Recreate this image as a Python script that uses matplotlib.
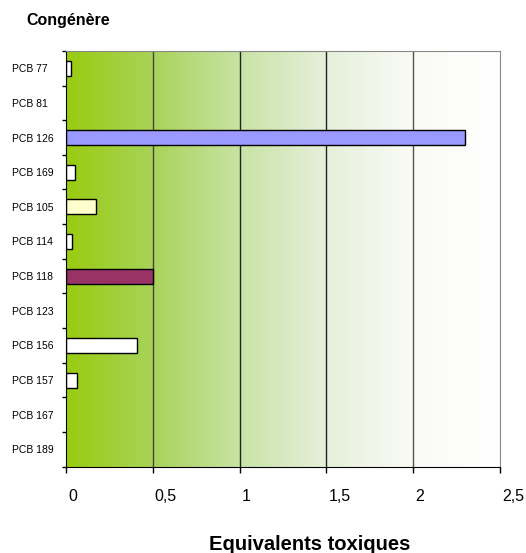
import numpy as np
import matplotlib
matplotlib.use("Agg")
import matplotlib.pyplot as plt
import matplotlib.transforms as mtransforms
from matplotlib.colors import LinearSegmentedColormap

plt.rcParams['font.family'] = ['Liberation Sans', 'DejaVu Sans']

congeneres = ["PCB 77", "PCB 81", "PCB 126", "PCB 169", "PCB 105", "PCB 114",
              "PCB 118", "PCB 123", "PCB 156", "PCB 157", "PCB 167", "PCB 189"]
valeurs = [0.03, 0.0, 2.30, 0.05, 0.17, 0.035, 0.50, 0.0, 0.41, 0.065, 0.0, 0.0]
couleurs = ["white", "white", "#9999FF", "white", "#FFFFCC", "white",
            "#993366", "white", "white", "white", "white", "white"]
xticks = [0, 0.5, 1, 1.5, 2, 2.5]
xticklabels = ["0", "0,5", "1", "1,5", "2", "2,5"]

fig = plt.figure(figsize=(5.26, 5.53), dpi=100)
ax = fig.add_axes([0.1255, 0.156, 0.825, 0.752])

n = len(congeneres)
# fond en dégradé vert -> blanc
cmap = LinearSegmentedColormap.from_list("vert", ["#99CC11", "#A8D35A", "#C8E3A5", "#E6F0DA", "#FAFBF6", "#FFFFFF"])
grad = np.linspace(0, 1, 256).reshape(1, -1)
ax.imshow(grad, cmap=cmap, aspect="auto", extent=[0, 2.5, n - 0.5, -0.5], zorder=0)

for x, c in zip([0.5, 1, 1.5, 2], ["#444433", "#222222", "#222222", "#555555"]):
    ax.axvline(x, color=c, lw=1.0, zorder=1)

y = np.arange(n)
for i in range(n):
    if valeurs[i] > 0:
        ax.barh(y[i], valeurs[i], height=0.43, color=couleurs[i], edgecolor="black", lw=1.0, zorder=2)

ax.set_xlim(0, 2.5)
ax.set_ylim(n - 0.5, -0.5)
ax.set_yticks(y)
ax.set_yticklabels(congeneres, fontsize=7.5, ha="left")
ax.set_yticks(np.arange(n + 1) - 0.5, minor=True)
ax.tick_params(axis="y", which="major", length=0, pad=39)
ax.tick_params(axis="y", which="minor", length=3, width=1, direction="out")
ax.set_xticks(xticks)
ax.set_xticklabels(xticklabels, fontsize=11.5, ha="left")
ax.tick_params(axis="x", length=4, width=1, direction="out", pad=12)
decal = mtransforms.ScaledTranslation(0.02, 0, fig.dpi_scale_trans)
for lab in ax.get_xticklabels():
    lab.set_transform(lab.get_transform() + decal)

ax.spines["left"].set_color("black")
ax.spines["bottom"].set_color("black")
ax.spines["top"].set_color("#888888")
ax.spines["right"].set_color("#888888")

fig.text(26 / 526, 1 - 21 / 553, "Congénère", fontsize=11.5, fontweight="bold", ha="left", va="center")
fig.text(310 / 526, 2.5 / 553, "Equivalents toxiques", fontsize=14.5, fontweight="bold", ha="center", va="baseline")

fig.savefig("out.png", dpi=100)
